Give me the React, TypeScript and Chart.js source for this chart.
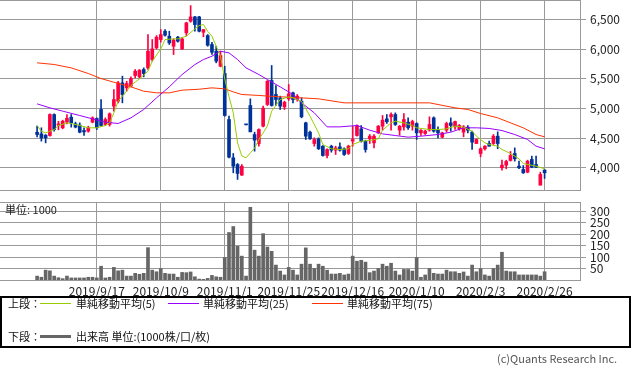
import React, { useEffect, useRef } from 'react';
import { Chart, registerables } from 'chart.js';
Chart.register(...registerables);

const FONT = '"Noto Sans CJK JP", "Noto Sans", sans-serif';
const RED = '#ff0040';
const BLUE = '#003399';
const GRID = '#999999';
const VOLCOL = '#666666';

// trading-day index of each x tick and its label
const xTickIdx = [14, 29, 44, 59, 74, 89, 104, 119];
const xTickLabels = ['2019/9/17', '2019/10/9', '2019/11/1', '2019/11/25', '2019/12/16', '2020/1/10', '2020/2/3', '2020/2/26'];
const priceTicks = [4000, 4500, 5000, 5500, 6000, 6500];
const volTicks = [50, 100, 150, 200, 250, 300];

const openP = [4600, 4572, 4550, 4544, 4898, 4720, 4673, 4769, 4853, 4741,
  4719, 4628, 4617, 4769, 4831, 4983, 4730, 4730, 5039, 5123,
  5432, 5348, 5376, 5556, 5534, 5657, 5685, 5826, 6022, 6163,
  6303, 6219, 6050, 6202, 6005, 6275, 6472, 6545, 6545, 6286,
  6230, 6079, 5966, 5713, 5590, 4814, 4168, 4055, 3876, 4724,
  5050, 4561, 4409, 4702, 5067, 5472, 5236, 5179, 5028, 5163,
  5264, 5151, 5123, 4758, 4600, 4409, 4488, 4364, 4207, 4364,
  4297, 4353, 4320, 4241, 4449, 4544, 4657, 4449, 4488, 4420,
  4589, 4702, 4825, 4859, 4898, 4634, 4690, 4769, 4702, 4747,
  4589, 4578, 4634, 4842, 4634, 4516, 4634, 4758, 4690, 4657,
  4600, 4685, 4600, 4409, 4241, 4320, 4409, 4409, 4533, 4000,
  4044, 4123, 4241, 4027, 3971, 3926, 4140, 4055, 3707, 3960];
const highP = [4702, 4674, 4560, 4910, 4910, 4785, 4803, 4898, 4898, 4769,
  4758, 4674, 4702, 4859, 4842, 5151, 4842, 4926, 5320, 5460,
  5545, 5460, 5533, 5657, 5657, 5685, 6247, 6163, 6230, 6331,
  6331, 6303, 6174, 6219, 6191, 6455, 6736, 6556, 6556, 6331,
  6247, 6118, 6050, 5966, 5713, 4870, 4241, 4072, 4055, 4724,
  5163, 4600, 4657, 5039, 5472, 5725, 5387, 5208, 5123, 5404,
  5275, 5236, 5180, 4769, 4617, 4505, 4505, 4376, 4320, 4381,
  4364, 4420, 4336, 4381, 4702, 4724, 4713, 4466, 4561, 4561,
  4713, 4882, 4898, 4926, 4926, 4713, 4915, 4842, 4803, 4758,
  4646, 4634, 4859, 4859, 4690, 4600, 4769, 4842, 4786, 4730,
  4713, 4713, 4617, 4488, 4336, 4376, 4449, 4561, 4606, 4128,
  4128, 4275, 4336, 4112, 4038, 4128, 4196, 4196, 3926, 3971];
const lowP = [4522, 4449, 4420, 4533, 4617, 4640, 4657, 4741, 4685, 4673,
  4589, 4544, 4600, 4758, 4645, 4702, 4713, 4702, 4955, 5095,
  5095, 5292, 5365, 5517, 5517, 5534, 5657, 5798, 6005, 6118,
  6219, 6079, 5910, 6118, 5994, 6230, 6455, 6303, 6290, 6208,
  6050, 5910, 5770, 5702, 4870, 4168, 3915, 3803, 3870, 4724,
  4606, 4280, 4364, 4690, 5050, 5039, 5050, 4983, 4983, 5134,
  5095, 5123, 4842, 4477, 4477, 4364, 4308, 4196, 4168, 4263,
  4224, 4280, 4207, 4224, 4364, 4533, 4432, 4263, 4409, 4336,
  4578, 4634, 4747, 4634, 4713, 4550, 4634, 4645, 4634, 4477,
  4544, 4561, 4617, 4600, 4505, 4505, 4600, 4617, 4645, 4634,
  4522, 4589, 4308, 4409, 4185, 4297, 4364, 4393, 4320, 3960,
  3983, 4112, 4112, 3983, 3904, 3915, 4000, 4000, 3707, 3820];
const closeP = [4561, 4505, 4505, 4898, 4645, 4740, 4785, 4836, 4758, 4685,
  4600, 4606, 4674, 4842, 4674, 4713, 4814, 4910, 5151, 5432,
  5235, 5421, 5505, 5629, 5646, 5590, 5966, 6005, 6202, 6247,
  6236, 6107, 6152, 6135, 6174, 6444, 6545, 6416, 6303, 6331,
  6067, 5949, 5798, 5893, 4882, 4179, 4027, 3904, 4027, 4724,
  4606, 4466, 4645, 5005, 5460, 5050, 5151, 5039, 5106, 5247,
  5151, 5208, 4859, 4533, 4488, 4477, 4320, 4207, 4308, 4297,
  4336, 4297, 4224, 4364, 4477, 4713, 4449, 4308, 4533, 4533,
  4702, 4803, 4775, 4898, 4730, 4702, 4814, 4674, 4780, 4589,
  4634, 4617, 4730, 4617, 4589, 4589, 4747, 4713, 4780, 4713,
  4690, 4634, 4432, 4477, 4320, 4364, 4364, 4533, 4409, 4044,
  4106, 4207, 4151, 4000, 3915, 4112, 4010, 4010, 3888, 3915];
const volume = [17, 12, 43, 40, 17, 10, 6, 17, 9, 9,
  9, 9, 12, 12, 9, 60, 9, 12, 55, 40,
  43, 17, 17, 29, 25, 29, 141, 43, 36, 50,
  29, 26, 26, 12, 33, 32, 35, 14, 4, 3,
  7, 20, 14, 12, 98, 207, 233, 147, 104, 17,
  317, 130, 104, 202, 144, 125, 65, 39, 22, 55,
  43, 22, 69, 140, 69, 50, 69, 60, 43, 26,
  26, 29, 22, 26, 104, 82, 86, 78, 32, 39,
  50, 69, 60, 73, 39, 22, 46, 46, 39, 98,
  12, 22, 50, 29, 26, 26, 43, 36, 36, 29,
  35, 17, 65, 36, 50, 22, 17, 50, 65, 121,
  39, 36, 36, 22, 22, 22, 22, 22, 17, 36];

// moving averages: [trading-day index, value]
const ma5 = [[0, 4713], [1, 4617], [2, 4589], [4, 4645], [5, 4713], [7, 4758], [8, 4747], [10, 4713], [12, 4674], [14, 4674],
  [16, 4713], [17, 4758], [18, 4926], [19, 5123], [21, 5292], [22, 5387], [24, 5500], [26, 5629], [27, 5798], [29, 6005],
  [30, 6163], [32, 6174], [33, 6174], [35, 6219], [37, 6343], [38, 6399], [39, 6416], [40, 6300], [41, 6219], [42, 6050],
  [43, 5882], [44, 5500], [45, 5200], [46, 4926], [47, 4420], [48, 4200], [49, 4168], [50, 4250], [51, 4330], [52, 4477],
  [54, 4702], [55, 4955], [57, 5151], [59, 5196], [60, 5179], [62, 5120], [64, 4870], [66, 4589], [67, 4393], [69, 4320],
  [71, 4308], [73, 4320], [74, 4393], [76, 4449], [78, 4460], [80, 4488], [81, 4634], [83, 4758], [84, 4786], [86, 4758],
  [88, 4713], [89, 4674], [92, 4645], [94, 4645], [96, 4657], [98, 4702], [100, 4685], [102, 4617], [103, 4533], [105, 4420],
  [106, 4393], [108, 4364], [109, 4308], [111, 4241], [113, 4151], [114, 4072], [117, 4027], [119, 3983]];
const ma25 = [[0, 5078], [3, 5011], [6, 4955], [10, 4881], [13, 4825], [16, 4769], [19, 4747], [22, 4842], [25, 4983], [28, 5179],
  [31, 5365], [34, 5573], [37, 5741], [39, 5826], [41, 5882], [43, 5966], [45, 5938], [47, 5826], [49, 5685], [52, 5573],
  [54, 5488], [57, 5365], [60, 5236], [62, 5095], [65, 4926], [68, 4690], [71, 4690], [75, 4713], [78, 4634], [81, 4572],
  [84, 4544], [87, 4516], [90, 4533], [94, 4561], [97, 4600], [100, 4674], [103, 4674], [106, 4663], [109, 4628], [112, 4561],
  [115, 4477], [117, 4364], [119, 4320]];
const ma75 = [[0, 5770], [4, 5742], [8, 5685], [12, 5590], [15, 5505], [18, 5443], [22, 5365], [25, 5292], [28, 5264], [31, 5264],
  [34, 5309], [38, 5325], [41, 5348], [44, 5331], [46, 5280], [48, 5236], [52, 5220], [55, 5205], [59, 5190], [62, 5179],
  [66, 5163], [72, 5095], [92, 5095], [94, 5067], [98, 5011], [101, 4983], [104, 4915], [108, 4842], [111, 4758], [114, 4674],
  [117, 4561], [119, 4522]];

const X_MIN = -8.7;
const X_MAX = 127.3;

const frameTop = {
  id: 'frameTop',
  afterDatasetsDraw(chart: any) {
    const { ctx, chartArea } = chart;
    ctx.save();
    ctx.strokeStyle = GRID;
    ctx.lineWidth = 1;
    ctx.beginPath();
    ctx.moveTo(chartArea.left, chartArea.top + 0.5);
    ctx.lineTo(chartArea.right, chartArea.top + 0.5);
    ctx.stroke();
    ctx.restore();
  },
};

const unitLabel = {
  id: 'unitLabel',
  afterDraw(chart: any) {
    const { ctx, chartArea } = chart;
    ctx.save();
    ctx.fillStyle = '#222';
    ctx.font = '11px ' + FONT;
    ctx.textBaseline = 'middle';
    ctx.textAlign = 'left';
    ctx.fillText('単位: 1000', chartArea.left + 5, chartArea.top + 8);
    ctx.restore();
  },
};

function xScale(showLabels: boolean) {
  return {
    type: 'linear',
    min: X_MIN,
    max: X_MAX,
    offset: false,
    afterBuildTicks: (s: any) => { s.ticks = xTickIdx.map((v) => ({ value: v })); },
    afterFit: (s: any) => {
      s.height = showLabels ? 20 : 0;
      s.paddingLeft = 0; s.paddingRight = 0; s.paddingTop = 0; s.paddingBottom = 0;
    },
    grid: { color: GRID, lineWidth: 1, drawTicks: false, offset: false },
    border: { display: true, color: GRID },
    ticks: {
      display: showLabels,
      padding: 4,
      maxRotation: 0,
      autoSkip: false,
      color: '#222',
      font: { family: FONT, size: 12 },
      callback: (v: any) => xTickLabels[xTickIdx.indexOf(Number(v))] ?? '',
    },
  };
}

function yScale(min: number, max: number, ticks: number[], fmt: (v: number) => string) {
  return {
    type: 'linear',
    position: 'right',
    min, max,
    afterBuildTicks: (s: any) => { s.ticks = ticks.map((v) => ({ value: v })); },
    afterFit: (s: any) => {
      s.width = 53;
      s.paddingTop = 0; s.paddingBottom = 0; s.paddingLeft = 0; s.paddingRight = 0;
    },
    grid: { color: GRID, lineWidth: 1, tickLength: 6, drawTicks: true },
    border: { display: true, color: GRID },
    ticks: {
      padding: 4,
      autoSkip: false,
      color: '#222',
      font: { family: FONT, size: 12 },
      callback: (v: any) => fmt(Number(v)),
    },
  };
}

export default function App() {
  const priceRef = useRef<HTMLCanvasElement>(null);
  const volRef = useRef<HTMLCanvasElement>(null);

  useEffect(() => {
    const idx = closeP.map((_, i) => i);
    const colors = idx.map((i) => (closeP[i] > openP[i] ? RED : BLUE));
    const priceChart = new Chart(priceRef.current as HTMLCanvasElement, {
      type: 'bar',
      data: {
        datasets: [
          { type: 'line', data: ma5.map(([x, y]) => ({ x, y })), borderColor: '#99cc00', borderWidth: 1, pointRadius: 0, order: 0 } as any,
          { type: 'line', data: ma25.map(([x, y]) => ({ x, y })), borderColor: '#9900ff', borderWidth: 1, pointRadius: 0, order: 0 } as any,
          { type: 'line', data: ma75.map(([x, y]) => ({ x, y })), borderColor: '#ff3300', borderWidth: 1, pointRadius: 0, order: 0 } as any,
          { type: 'bar', data: idx.map((i) => ({ x: i, y: [openP[i], closeP[i]] })), backgroundColor: colors, barThickness: 3, minBarLength: 1, grouped: false, order: 1 } as any,
          { type: 'bar', data: idx.map((i) => ({ x: i, y: [lowP[i], highP[i]] })), backgroundColor: colors, barThickness: 1, grouped: false, order: 2 } as any,
        ],
      },
      options: {
        animation: false,
        responsive: false,
        maintainAspectRatio: false,
        events: [],
        layout: { padding: { left: 0, right: 0, top: 0, bottom: 2 } },
        plugins: { legend: { display: false }, tooltip: { enabled: false } },
        scales: {
          x: xScale(false) as any,
          y: yScale(3625, 6830, priceTicks, (v) => v.toLocaleString('en-US')) as any,
        },
      },
      plugins: [frameTop],
    });

    const volChart = new Chart(volRef.current as HTMLCanvasElement, {
      type: 'bar',
      data: {
        datasets: [
          { data: idx.map((i) => ({ x: i, y: volume[i] })), backgroundColor: VOLCOL, barThickness: 3, grouped: false } as any,
        ],
      },
      options: {
        animation: false,
        responsive: false,
        maintainAspectRatio: false,
        events: [],
        layout: { padding: { left: 0, right: 0, top: 6, bottom: 0 } },
        plugins: { legend: { display: false }, tooltip: { enabled: false } },
        scales: {
          x: xScale(true) as any,
          y: yScale(0, 340, volTicks, (v) => String(v)) as any,
        },
      },
      plugins: [frameTop, unitLabel],
    });

    return () => { priceChart.destroy(); volChart.destroy(); };
  }, []);

  const txt: React.CSSProperties = { position: 'absolute', fontFamily: FONT, fontSize: 11, color: '#111', lineHeight: '14px', whiteSpace: 'nowrap' };
  const line = (left: number, top: number, color: string, h: number): React.CSSProperties => ({
    position: 'absolute', left, top, width: 31, height: h, background: color,
  });

  return (
    <div style={{ position: 'fixed', left: 0, top: 0, width: 633, height: 372, background: '#fff', overflow: 'hidden' }}>
      <canvas ref={priceRef} width={633} height={192} style={{ position: 'absolute', left: 0, top: 0, width: 633, height: 192 }} />
      <canvas ref={volRef} width={633} height={104} style={{ position: 'absolute', left: 0, top: 196, width: 633, height: 104 }} />
      <div style={{ position: 'absolute', left: 0, top: 296, width: 627, height: 48, border: '2px solid #000' }} />
      <span style={{ ...txt, left: 8, top: 296 }}>上段：</span>
      <div style={line(40, 303, '#99cc00', 1)} />
      <span style={{ ...txt, left: 76, top: 296 }}>単純移動平均(5)</span>
      <div style={line(168, 303, '#9900ff', 1)} />
      <span style={{ ...txt, left: 203, top: 296 }}>単純移動平均(25)</span>
      <div style={line(312, 303, '#ff3300', 1)} />
      <span style={{ ...txt, left: 347, top: 296 }}>単純移動平均(75)</span>
      <span style={{ ...txt, left: 8, top: 329 }}>下段：</span>
      <div style={line(40, 335, VOLCOL, 3)} />
      <span style={{ ...txt, left: 76, top: 329 }}>出来高 単位:(1000株/口/枚)</span>
      <span style={{ ...txt, left: 497, top: 351, fontSize: 11, color: '#555' }}>(c)Quants Research Inc.</span>
    </div>
  );
}
